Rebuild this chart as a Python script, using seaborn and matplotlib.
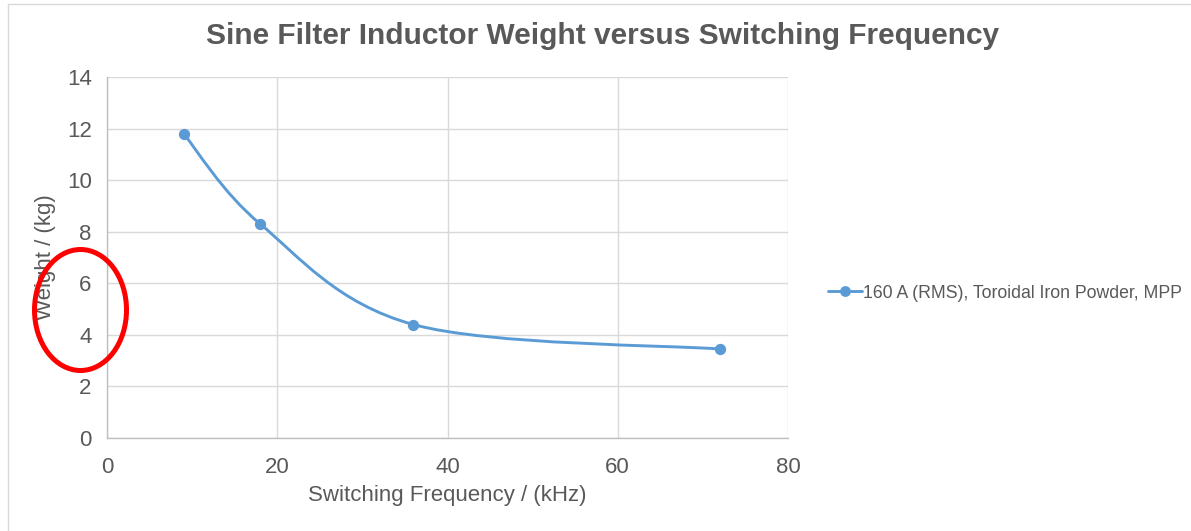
import numpy as np
import pandas as pd
import matplotlib
matplotlib.use("Agg")
import matplotlib.pyplot as plt
from matplotlib.path import Path
from matplotlib.patches import PathPatch, Ellipse
from matplotlib.lines import Line2D
import seaborn as sns

# Measured inductor weights
freq_khz = [9, 18, 36, 72]
weight_kg = [11.8, 8.3, 4.4, 3.45]
series_name = "160 A (RMS), Toroidal Iron Powder, MPP"

title = "Sine Filter Inductor Weight versus Switching Frequency"
x_label = "Switching Frequency / (kHz)"
y_label = "Weight / (kg)"
x_ticks = [0, 20, 40, 60, 80]
y_ticks = [0, 2, 4, 6, 8, 10, 12, 14]

df = pd.DataFrame({"freq": freq_khz, "weight": weight_kg})

sns.set_theme(style="white")
plt.rcParams["font.family"] = ["Liberation Sans", "DejaVu Sans"]

BLUE = "#5b9bd5"
TEXT = "#595959"
GRID = "#d9d9d9"

W, H = 1191, 531
fig = plt.figure(figsize=(W / 100, H / 100), dpi=100)
ax = fig.add_axes([107 / W, 1 - 438 / H, (788 - 107) / W, (438 - 77) / H])

# Smoothed connecting curve: cubic Bezier segments (Catmull-Rom style control points)
px = np.asarray(freq_khz, float)
py = np.asarray(weight_kg, float)
n = len(px)
verts = [(px[0], py[0])]
codes = [Path.MOVETO]
for i in range(n - 1):
    p0 = (px[max(i - 1, 0)], py[max(i - 1, 0)])
    p1 = (px[i], py[i])
    p2 = (px[i + 1], py[i + 1])
    p3 = (px[min(i + 2, n - 1)], py[min(i + 2, n - 1)])
    c1 = (p1[0] + (p2[0] - p0[0]) / 6, p1[1] + (p2[1] - p0[1]) / 6)
    c2 = (p2[0] - (p3[0] - p1[0]) / 6, p2[1] - (p3[1] - p1[1]) / 6)
    verts += [c1, c2, p2]
    codes += [Path.CURVE4] * 3
ax.add_patch(PathPatch(Path(verts, codes), facecolor="none", edgecolor=BLUE,
                       lw=2.1, capstyle="round", zorder=3))

sns.scatterplot(data=df, x="freq", y="weight", color=BLUE, s=66,
                edgecolor=BLUE, linewidth=0, zorder=4, ax=ax, legend=False)

ax.set_xlim(0, 80)
ax.set_ylim(0, 14)
ax.set_xticks(x_ticks)
ax.set_yticks(y_ticks)
ax.grid(True, color=GRID, lw=1.0)
ax.set_axisbelow(True)
for side in ["top", "right"]:
    ax.spines[side].set_visible(False)
for side in ["left", "bottom"]:
    ax.spines[side].set_color("#bfbfbf")
    ax.spines[side].set_linewidth(1.0)
ax.tick_params(axis="both", length=0, labelsize=16, labelcolor=TEXT)
ax.tick_params(axis="x", pad=14)
ax.tick_params(axis="y", pad=11)

ax.set_xlabel(x_label, fontsize=16, color=TEXT, labelpad=5)
ax.set_ylabel("")
fig.text(46 / W, 1 - 257 / H, y_label, rotation=90, ha="center", va="center",
         fontsize=16, color=TEXT)

fig.text(603 / W, 1 - 36 / H, title, ha="center", va="center",
         fontsize=21.5, fontweight="bold", color=TEXT)

# Legend outside the plot area
handle = Line2D([], [], color=BLUE, lw=2.1, marker="o", markersize=7.8,
                markeredgewidth=0)
fig.legend([handle], [series_name], loc="center left",
           bbox_to_anchor=(828 / W, 1 - 293 / H), frameon=False,
           fontsize=12.7, labelcolor=TEXT, handlelength=1.9,
           handletextpad=0.1, borderaxespad=0, borderpad=0)

# Highlight ring around the y-axis label
fig.patches.append(Ellipse((80.5 / W, 1 - 310 / H), 92 / W, 121 / H,
                           transform=fig.transFigure, fill=False,
                           edgecolor="#ff0000", lw=3.6, zorder=10))

# Chart-area frame
fig.add_artist(Line2D([7.5 / W, 7.5 / W], [0, 1 - 3.5 / H],
                      transform=fig.transFigure, color="#d9d9d9", lw=1.0))
fig.add_artist(Line2D([7.5 / W, 1], [1 - 3.5 / H, 1 - 3.5 / H],
                      transform=fig.transFigure, color="#d9d9d9", lw=1.0))

fig.savefig("out.png", dpi=100, facecolor="white")
